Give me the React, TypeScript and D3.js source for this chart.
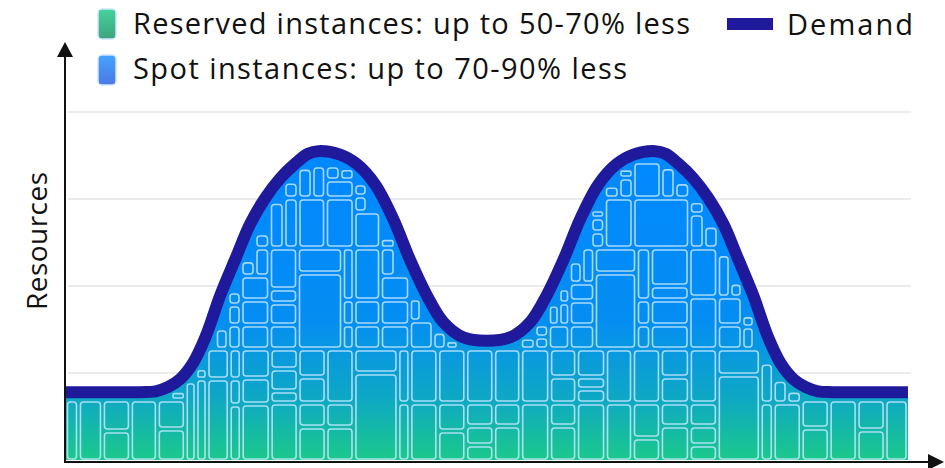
import React, { useMemo } from "react";
import * as d3 from "d3";

// ---- Data ----
// Demand curve: time index (0-100) and resources (grid units)
const demandT = [0, 8.9, 10.7, 12.2, 13.6, 15.1, 16.6, 18.4, 20.2, 21.9, 23.7, 25.5, 27.3, 28.8, 30.0, 32.6, 34.6, 36.8, 38.9, 40.9, 42.9, 44.8, 47.2, 50,
  52.8, 55.2, 57.1, 59.1, 61.1, 63.2, 65.4, 67.4, 70.0, 71.2, 72.7, 74.5, 76.3, 78.1, 79.8, 81.6, 83.4, 84.9, 86.4, 87.8, 89.3, 91.1, 100];
const demandV = [0.78, 0.78, 0.79, 0.84, 0.93, 1.11, 1.41, 1.90, 2.32, 2.71, 3.01, 3.24, 3.41, 3.52, 3.55, 3.51, 3.40, 3.16, 2.77, 2.30, 1.89, 1.59, 1.41, 1.37,
  1.41, 1.59, 1.89, 2.30, 2.77, 3.16, 3.40, 3.51, 3.55, 3.52, 3.41, 3.24, 3.01, 2.71, 2.32, 1.90, 1.41, 1.11, 0.93, 0.84, 0.79, 0.78, 0.78];
const gridValues = [1, 2, 3, 4];
const legendLabels = ["Reserved instances: up to 50-70% less", "Spot instances: up to 70-90% less"];
const demandLabel = "Demand";
const yAxisLabel = "Resources";

// ---- Texture layout (instance blocks), three tiers ----
const LOWER_W = [13, 24, 28, 27, 28, 44, 12, 29, 28, 28, 28, 44, 12, 28, 28, 28, 27, 29, 27, 29, 27, 28, 29, 28, 43, 13, 28, 28, 28, 28, 23];
const LOWER_STACK = [[61, 51], [61, 51], [30, 31, 51], [61, 51], [32, 29, 51], [82, 30], [56, 26, 30], [57, 26, 29], [58, 12, 22, 20], [34, 24, 26, 28],
  [34, 24, 54], [88, 24], [58, 54], [58, 54], [30, 28, 54], [16, 19, 23, 54], [35, 23, 54], [58, 54], [35, 23, 26, 28], [58, 14, 12, 28], [58, 54],
  [23, 35, 54], [35, 23, 26, 28], [16, 19, 23, 54], [86, 26], [58, 54], [58, 54], [33, 28, 51], [61, 51], [31, 30, 51], [61, 51]];
const MID_W = [34.5, 40, 30, 22, 23.5, 25.5, 28.5, 28, 45, 11.5, 26.5, 29, 23.5, 25, 25, 25, 12.5, 28, 21, 25, 42, 14, 38.5, 28.5, 24.5, 23, 25, 40, 40, 38];
const MID_STACK = [[50, 51], [50, 51], [50, 51], [26, 24, 51], [20, 22, 24, 35], [24, 20, 18, 39], [24, 25, 24, 28], [24, 22, 14, 41], [76, 25],
  [24, 25, 52], [24, 25, 52], [24, 25, 24, 28], [28, 22, 51], [22, 16, 63], [14, 87], [10, 91], [10, 91], [12, 18, 71], [24, 22, 14, 41],
  [24, 24, 18, 35], [76, 25], [24, 25, 52], [24, 25, 14, 38], [52, 49], [24, 28, 49], [22, 22, 57], [20, 81], [50, 51], [50, 51], [50, 51]];
const TOP_W = [147.5, 28, 28.5, 56, 28.5, 26.5, 29, 30.5, 93, 15, 29, 27.5, 28.5, 56.5, 28.5, 27, 25, 138];
const TOP_STACK = [[50], [16, 14, 12, 10], [14, 12, 12, 10, 10], [50, 32, 14], [50, 18, 14, 10], [36, 16, 12], [14, 12, 10], [12, 10], [50],
  [12, 10], [14, 12, 10], [16, 14, 12, 10], [50, 20, 14], [50, 36, 14], [34, 18, 14], [16, 14, 10], [12, 10], [50]];

type Cell = { x: number; y: number; w: number; h: number };

function buildCells(pts: [number, number][], curve: any, xLeft: number, xRight: number, yBase: number): Cell[] {
  const samples: [number, number][] = [];
  let cx = 0, cy = 0;
  const ctx: any = {
    moveTo(a: number, b: number) { cx = a; cy = b; samples.push([a, b]); },
    lineTo(a: number, b: number) { cx = a; cy = b; samples.push([a, b]); },
    bezierCurveTo(x1: number, y1: number, x2: number, y2: number, a: number, b: number) {
      for (let i = 1; i <= 24; i++) {
        const t = i / 24, m = 1 - t;
        samples.push([
          m * m * m * cx + 3 * m * m * t * x1 + 3 * m * t * t * x2 + t * t * t * a,
          m * m * m * cy + 3 * m * m * t * y1 + 3 * m * t * t * y2 + t * t * t * b,
        ]);
      }
      cx = a; cy = b;
    },
    closePath() {},
  };
  d3.line().curve(curve).context(ctx)(pts);
  samples.sort((a, b) => a[0] - b[0]);
  const N = 960;
  const cyArr: number[] = new Array(N).fill(0);
  let j = 0;
  for (let X = 0; X < N; X++) {
    if (X <= samples[0][0]) { cyArr[X] = samples[0][1]; continue; }
    if (X >= samples[samples.length - 1][0]) { cyArr[X] = samples[samples.length - 1][1]; continue; }
    while (samples[j + 1][0] < X) j++;
    const [ax, ay] = samples[j], [bx, by] = samples[j + 1];
    cyArr[X] = ay + (by - ay) * (X - ax) / ((bx - ax) || 1);
  }
  const R = 9;
  const lim = cyArr.map((_, X) => {
    let m = -Infinity;
    for (let u = X - R; u <= X + R; u++) {
      const uu = Math.max(0, Math.min(N - 1, u));
      const v = cyArr[uu] + Math.sqrt(R * R - (u - X) * (u - X));
      if (v > m) m = v;
    }
    return m;
  });
  const maxLim = (a: number, b: number) => { let m = -Infinity; for (let X = Math.floor(a); X <= Math.ceil(b); X++) m = Math.max(m, lim[X]); return m; };
  const minLim = (a: number, b: number) => { let m = Infinity; for (let X = Math.floor(a); X <= Math.ceil(b); X++) m = Math.min(m, lim[X]); return m; };
  const cells: Cell[] = [];
  const add = (x0: number, top: number, x1: number, yb: number) => {
    const w = x1 - x0 - 4, h = yb - top - 4;
    if (w >= 3 && h >= 3) cells.push({ x: x0 + 2, y: top + 2, w, h });
  };
  const fill = (x0: number, x1: number, yb: number, yTop: number, seq: number[], k: number) => {
    while (k < seq.length) {
      const h = seq[k];
      const Lc = maxLim(x0 + 2, x1 - 2);
      const L = Math.max(Lc, yTop + 3);
      const top = yb - h;
      if (top + 2 >= L - 1) { add(x0, top, x1, yb); yb = top; k++; continue; }
      const Lhi = minLim(x0 + 2, x1 - 2);
      if (Lc > yTop + 3 && x1 - x0 >= 16 && Lc - Lhi > 8) {
        const mid = Math.round((x0 + x1) / 2);
        fill(x0, mid, yb, yTop, seq, k);
        fill(mid, x1, yb, yTop, seq, k);
        return;
      }
      const t2 = L - 3;
      if (yb - t2 - 4 >= 4) add(x0, t2, x1, yb);
      return;
    }
  };
  const tier = (widths: number[], stacks: number[][], yb: number, yTop: number) => {
    const sc = (xRight - xLeft) / d3.sum(widths);
    let xs = xLeft;
    widths.forEach((w, i) => {
      const x0 = xs, x1 = xs + w * sc;
      xs = x1;
      fill(x0, x1, yb, yTop, stacks[i], 0);
    });
  };
  tier(LOWER_W, LOWER_STACK, yBase + 1, 349);
  tier(MID_W, MID_STACK, 349, 248);
  tier(TOP_W, TOP_STACK, 248, 100);
  return cells;
}

const FONT = "'Open Sans', Lato, sans-serif";

export default function App() {
  const W = 945, H = 468;
  const x = d3.scaleLinear().domain([0, 100]).range([65.5, 908]);
  const y = d3.scaleLinear().domain([0, 5]).range([460, 25]);
  const pts = demandT.map((t, i) => [x(t), y(demandV[i])] as [number, number]);
  const curve = d3.curveCatmullRom.alpha(0.5);
  const linePath = d3.line().curve(curve)(pts) || "";
  const areaPath = d3.area<[number, number]>().curve(curve).x(d => d[0]).y0(y(0)).y1(d => d[1])(pts) || "";
  const cells = useMemo(() => buildCells(pts, curve, x(0), x(100), y(0)), []);

  return (
    <svg width={W} height={H} style={{ position: "absolute", left: 0, top: 0, background: "#fff" }}>
      <defs>
        <linearGradient id="areaGrad" gradientUnits="userSpaceOnUse" x1={0} y1={y(0)} x2={0} y2={150}>
          <stop offset="0" stopColor="#1bc98a" />
          <stop offset="0.2" stopColor="#0ea8c4" />
          <stop offset="0.45" stopColor="#048ef2" />
          <stop offset="1" stopColor="#0088ff" />
        </linearGradient>
        <linearGradient id="greenSw" x1="0" y1="0" x2="0" y2="1">
          <stop offset="0" stopColor="#44d49c" />
          <stop offset="1" stopColor="#3fa37d" />
        </linearGradient>
        <linearGradient id="blueSw" x1="0" y1="0" x2="0" y2="1">
          <stop offset="0" stopColor="#45a3ff" />
          <stop offset="1" stopColor="#4b78e6" />
        </linearGradient>
        <clipPath id="areaClip"><path d={areaPath} /></clipPath>
      </defs>

      {gridValues.map(v => (
        <line key={v} x1={68} x2={911} y1={y(v)} y2={y(v)} stroke="#ebebeb" strokeWidth={2} />
      ))}

      <path d={areaPath} fill="url(#areaGrad)" />
      <g clipPath="url(#areaClip)">
        {cells.map((c, i) => (
          <rect key={i} x={c.x} y={c.y} width={c.w} height={c.h}
            rx={Math.min(3, c.w / 3, c.h / 3)} fill="none" stroke="#c4e6ff" strokeOpacity={0.85} strokeWidth={1.6} />
        ))}
      </g>

      <path d={linePath} fill="none" stroke="#1f1a9c" strokeWidth={12} />

      <line x1={65} x2={65} y1={463} y2={56} stroke="#111" strokeWidth={2} />
      <path d="M57,57 L65,42 L73,57 Z" fill="#111" />
      <line x1={64} x2={930} y1={462} y2={462} stroke="#111" strokeWidth={2} />
      <path d="M928,454 L944,462 L928,470 Z" fill="#111" />

      <text transform="translate(47,241) rotate(-90)" textAnchor="middle" fontFamily={FONT} fontSize={28} fill="#111"
        textLength={138} lengthAdjust="spacing">{yAxisLabel}</text>

      <rect x={98} y={9} width={18} height={30} rx={4} fill="url(#greenSw)" stroke="#cfe6ff" strokeWidth={1.5} />
      <rect x={98} y={55} width={18} height={30} rx={4} fill="url(#blueSw)" stroke="#cfe6ff" strokeWidth={1.5} />
      <text x={133} y={34} fontFamily={FONT} fontSize={29} fill="#111" textLength={557} lengthAdjust="spacing">{legendLabels[0]}</text>
      <text x={133} y={79} fontFamily={FONT} fontSize={29} fill="#111" textLength={494} lengthAdjust="spacing">{legendLabels[1]}</text>
      <rect x={727} y={18} width={46} height={12} fill="#1f1a9c" />
      <text x={787} y={35} fontFamily={FONT} fontSize={29} fill="#111" textLength={126} lengthAdjust="spacing">{demandLabel}</text>
    </svg>
  );
}
